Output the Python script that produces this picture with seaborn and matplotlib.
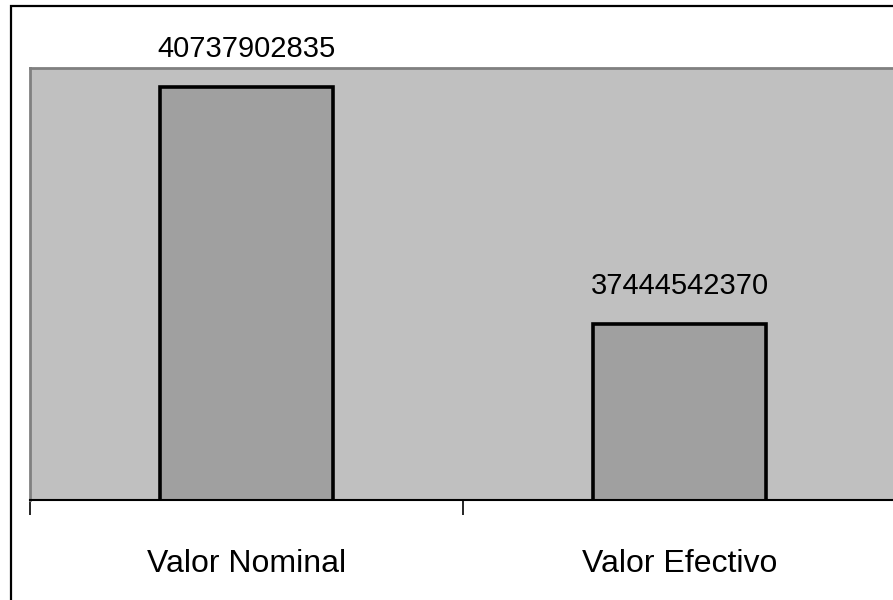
import matplotlib
matplotlib.use('Agg')
import matplotlib.pyplot as plt
import matplotlib.patches as patches
import seaborn as sns
import pandas as pd

categories = ['Valor Nominal', 'Valor Efectivo']
values = [40737902835, 37444542370]
value_labels = ['40737902835', '37444542370']

sns.set_style('white')
plt.rcParams['font.family'] = ['Liberation Sans', 'DejaVu Sans']
plt.rcParams['text.color'] = 'black'
plt.rcParams['xtick.color'] = 'black'

df = pd.DataFrame({'cat': categories, 'val': values})

fig = plt.figure(figsize=(8.93, 6.0), dpi=100)
W, H = 893, 600
ax = fig.add_axes([30 / W, 1 - 500 / H, 866 / W, 432 / H])

sns.barplot(data=df, x='cat', y='val', ax=ax, color='#a0a0a0', saturation=1,
            width=0.4, edgecolor='black', linewidth=2.6)
ax.set_facecolor('#c0c0c0')
ax.set_xlim(-0.5, 1.5)
ax.set_ylim(35e9, 41e9)

for i, lab in enumerate(value_labels):
    ax.annotate(lab, (i, values[i]), xytext=(0, 17), textcoords='offset points',
                ha='center', va='bottom', fontsize=21, color='black', annotation_clip=False)

ax.set_yticks([])
ax.set_ylabel('')
ax.set_xlabel('')
ax.set_xticks([-0.5, 0.5, 1.5])
ax.set_xticklabels([])
ax.set_xticks([0, 1], minor=True)
ax.set_xticklabels(categories, minor=True, fontsize=23, color='black')
ax.tick_params(axis='x', which='major', length=11, width=1.2, color='black', direction='out', bottom=True)
ax.tick_params(axis='x', which='minor', length=0, pad=35)

for s in ['left', 'top']:
    ax.spines[s].set_color('#808080')
    ax.spines[s].set_linewidth(2)
ax.spines['right'].set_visible(False)
ax.spines['bottom'].set_color('black')
ax.spines['bottom'].set_linewidth(1.5)

fig.patches.append(patches.Rectangle((11 / W, -0.1), 1.1, 1 - 6 / H + 0.1, transform=fig.transFigure,
                                     fill=False, edgecolor='black', linewidth=1.6, zorder=10))

fig.savefig('out.png', dpi=100)
